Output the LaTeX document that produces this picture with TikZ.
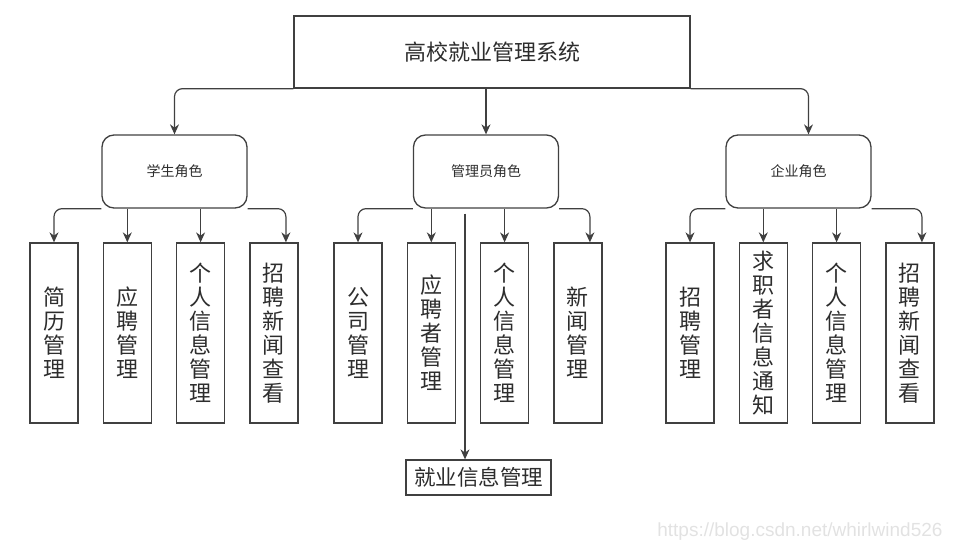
\documentclass[tikz,border=0pt]{standalone}
\usepackage{fontspec}
\newfontfamily\cjk{Noto Sans CJK SC}
\newfontfamily\markfont{Liberation Sans}
\usetikzlibrary{arrows.meta,positioning}
\definecolor{linegray}{RGB}{64,64,64}
\definecolor{textgray}{RGB}{45,45,45}
\definecolor{markgray}{RGB}{226,226,226}

\begin{document}
\begin{tikzpicture}[x=1pt, y=-1pt,
  sysbox/.style={draw=linegray, line width=1.3pt, minimum width=396pt, minimum height=72pt, font=\cjk\fontsize{22}{26}\selectfont, text=textgray},
  rolebox/.style={draw=linegray, line width=1.3pt, rounded corners=12pt, minimum width=145pt, minimum height=73pt, font=\cjk\fontsize{14}{16}\selectfont, text=textgray},
  leaf/.style={draw=linegray, line width=1.3pt, minimum width=48pt, minimum height=180pt, inner sep=0pt, align=center, text width=24pt, font=\cjk\fontsize{22}{24}\selectfont, text=textgray},
  jobbox/.style={draw=linegray, line width=1.3pt, minimum width=145pt, minimum height=35pt, inner sep=0pt, font=\cjk\fontsize{21.5}{24}\selectfont, text=textgray},
  arr/.style={-{Stealth[length=10pt,width=9pt]}, line width=1.2pt, draw=linegray, rounded corners=8pt}
]
\useasboundingbox (0,0) rectangle (958,554);

\node[sysbox] (title) at (492,52) {高校就业管理系统};

% roles
\node[rolebox] (stu) at (174.5,171.5) {学生角色};
\node[rolebox] (adm) at (486,171.5) {管理员角色};
\node[rolebox] (ent) at (798.5,171.5) {企业角色};

\draw[arr] (title.south west) -| (stu.north);
\draw[arr] (title.south -| adm.north) -- (adm.north);
\draw[arr] (title.south east) -| ([xshift=10pt]ent.north);

% student
\node[leaf] (s1) at (54,333) {简\\历\\管\\理};
\node[leaf, right=24pt of s1] (s2) {应\\聘\\管\\理};
\node[leaf, right=24pt of s2] (s3) {个\\人\\信\\息\\管\\理};
\node[leaf, right=24pt of s3] (s4) {招\\聘\\新\\闻\\查\\看};

\draw[arr] (stu.south west) -| (s1.north);
\draw[arr] (stu.south -| s2.north) -- (s2.north);
\draw[arr] (stu.south -| s3.north) -- (s3.north);
\draw[arr] (stu.south east) -| ([xshift=12pt]s4.north);

% admin
\node[leaf] (a1) at (358,333) {公\\司\\管\\理};
\node[leaf, right=24pt of a1] (a2) {应\\聘\\者\\管\\理};
\node[leaf, right=24pt of a2] (a3) {个\\人\\信\\息\\管\\理};
\node[leaf, right=24pt of a3] (a4) {新\\闻\\管\\理};

\draw[arr] (adm.south west) -| (a1.north);
\draw[arr] (adm.south -| a2.north) -- (a2.north);
\draw[arr] (adm.south -| a3.north) -- (a3.north);
\draw[arr] (adm.south east) -| ([xshift=12pt]a4.north);

\node[jobbox] (job) at (478.5,477.5) {就业信息管理};
\draw[arr] ([xshift=-21pt,yshift=-5pt]adm.south) -- ([xshift=-21pt]adm.south |- job.north);

% enterprise
\node[leaf] (e1) at (690,333) {招\\聘\\管\\理};
\node[leaf, right=24pt of e1] (e2) {求\\职\\者\\信\\息\\通\\知};
\node[leaf, right=24pt of e2] (e3) {个\\人\\信\\息\\管\\理};
\node[leaf, right=24pt of e3] (e4) {招\\聘\\新\\闻\\查\\看};

\draw[arr] (ent.south west) -| (e1.north);
\draw[arr] (ent.south -| e2.north) -- (e2.north);
\draw[arr] (ent.south -| e3.north) -- (e3.north);
\draw[arr] (ent.south east) -| ([xshift=12pt]e4.north);

\node[font=\markfont\fontsize{19}{22}\selectfont, text=markgray, anchor=east] (mark) at (946,532) {https://blog.csdn.net/whirlwind526};
\end{tikzpicture}
\end{document}
